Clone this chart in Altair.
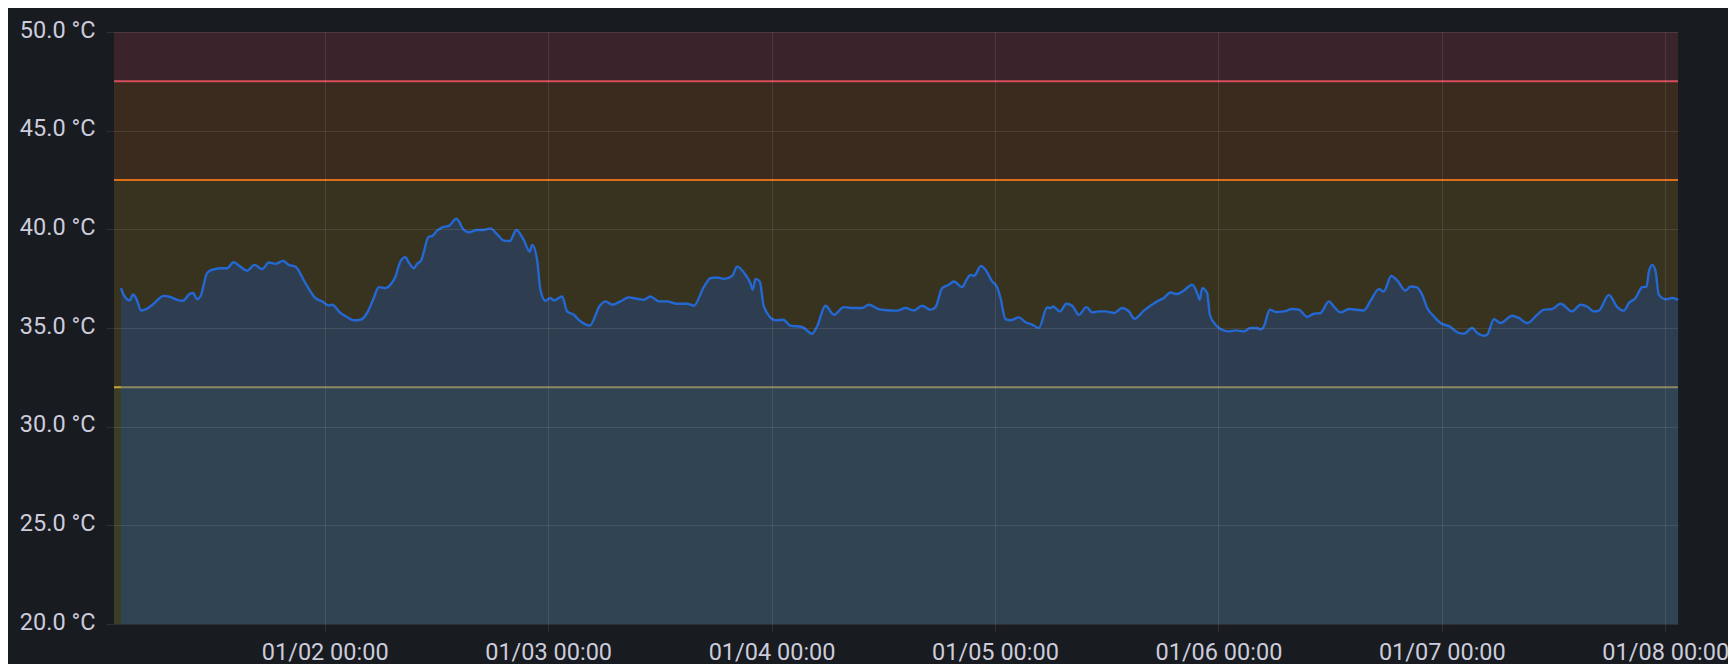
import altair as alt
import pandas as pd

# ---- data (hours after 01/01 00:00, temperature in °C) ----
hours = [
    2.12, 2.41, 3.06, 3.41, 3.77, 4.27, 4.92, 5.63, 6.71, 7.42, 8.14, 8.78, 9.50, 9.86,
    10.29, 10.65, 11.36, 11.90, 12.80, 13.51, 14.23, 14.94, 15.66, 16.45, 17.27, 17.99,
    18.70, 19.53, 20.14, 20.85, 21.93, 23.00, 23.72, 24.43, 24.79, 25.69, 26.40, 27.12,
    27.84, 28.55, 29.27, 29.81, 30.52, 31.06, 31.60, 32.13, 32.67, 33.03, 33.57, 33.92,
    34.35, 35.18, 35.54, 36.07, 36.61, 37.33, 38.15, 38.94, 39.47, 40.37, 41.08, 41.80,
    42.52, 43.23, 43.88, 44.59, 45.38, 46.03, 46.28, 46.82, 47.17, 47.71,
    48.25, 48.61, 49.50, 50.04, 50.75, 51.47, 52.47, 53.55, 54.16, 54.87, 55.77, 56.66,
    57.56, 58.27, 58.99, 59.88, 60.78, 61.85, 62.93, 63.65, 64.72, 65.44, 66.15, 66.87,
    67.76, 68.30, 69.20, 69.73, 69.98, 70.27, 70.74, 71.17, 72.42, 73.24, 74.03, 75.28,
    76.36, 76.89, 77.79, 78.69, 79.76, 80.83, 81.73, 82.45, 83.52, 84.77, 85.49, 86.38,
    87.28, 88.17, 89.07, 89.61, 90.32, 91.04, 91.58, 92.47, 92.94, 93.37, 93.73, 94.51,
    94.98, 95.70, 96.23, 96.59, 97.13, 97.66, 98.56, 99.28, 99.99, 100.71, 101.60,
    101.96, 102.25, 102.96, 103.68, 104.29, 105.01, 105.83, 106.44, 107.15, 107.87,
    108.76, 109.66, 110.38, 110.99, 111.99, 112.70, 113.42, 114.14, 114.85, 115.57,
    116.29, 117.18, 117.72, 118.00, 118.26, 118.79, 119.08, 119.69, 120.22, 121.12,
    121.84, 122.73, 123.45, 124.16, 124.52, 124.88, 125.52, 126.13, 127.03, 127.92,
    128.64, 129.54, 130.25, 130.97, 131.86, 132.40, 133.12, 134.01, 135.62, 136.34,
    137.23, 137.77, 138.56, 139.20, 140.10, 140.64, 141.28, 141.89, 142.43, 143.14,
    143.86, 144.93, 145.65, 146.37, 147.26, 147.80, 148.51, 148.87, 149.59, 150.30,
    151.56, 152.27, 153.17, 154.24, 154.96, 155.85, 156.75, 158.00, 158.90, 159.61,
    160.33, 160.87, 161.94, 162.84, 163.55, 164.09, 164.81, 165.52, 165.99, 166.24,
    166.60, 166.96, 167.31, 168.03, 168.75, 169.39,
]
temps = [
    37.02, 36.68, 36.40, 36.70, 36.48, 35.89, 35.98, 36.23, 36.63, 36.57, 36.43, 36.38, 36.73, 36.77,
    36.46, 36.60, 37.78, 37.95, 38.03, 38.03, 38.33, 38.11, 37.90, 38.20, 37.98, 38.32,
    38.25, 38.40, 38.20, 38.11, 37.27, 36.52, 36.35, 36.14, 36.18, 35.76, 35.56, 35.39,
    35.42, 35.76, 36.52, 37.07, 37.02, 37.19, 37.61, 38.37, 38.59, 38.32, 38.03, 38.25,
    38.42, 39.63, 39.66, 39.93, 40.10, 40.17, 40.54, 39.97, 39.85, 39.97, 39.97, 40.05,
    39.75, 39.43, 39.41, 39.97, 39.46, 38.87, 39.21, 38.45, 36.94, 36.38,
    36.52, 36.40, 36.60, 35.84, 35.67, 35.34, 35.12, 36.13, 36.35, 36.18, 36.35, 36.55,
    36.48, 36.43, 36.60, 36.35, 36.35, 36.23, 36.23, 36.13, 37.07, 37.53, 37.56, 37.49,
    37.64, 38.11, 37.69, 37.27, 36.94, 37.49, 37.36, 36.09, 35.39, 35.42, 35.12, 35.05,
    34.71, 35.08, 36.13, 35.67, 36.06, 36.01, 36.01, 36.18, 35.96, 35.89, 35.88, 36.01,
    35.89, 36.13, 35.93, 36.06, 37.02, 37.19, 37.36, 37.07, 37.44, 37.69, 37.64, 38.15,
    37.95, 37.36, 37.07, 36.52, 35.45, 35.39, 35.54, 35.29, 35.17, 35.00, 36.04,
    36.01, 36.09, 35.84, 36.23, 36.13, 35.67, 36.06, 35.79, 35.84, 35.84,
    35.76, 36.01, 35.84, 35.47, 35.88, 36.13, 36.35, 36.52, 36.80, 36.72,
    36.90, 37.19, 36.77, 36.43, 37.02, 36.77, 35.67, 35.17, 34.95, 34.83,
    34.88, 34.83, 35.00, 35.00, 34.92, 35.08, 35.93, 35.81, 35.84, 35.96,
    35.93, 35.56, 35.72, 35.76, 36.35, 36.09, 35.79, 35.96, 35.89, 36.38,
    36.97, 36.85, 37.64, 37.41, 36.90, 37.10, 37.07, 36.68, 36.01, 35.59,
    35.25, 35.05, 34.78, 34.71, 35.00, 34.75, 34.61, 34.66, 35.45, 35.25,
    35.62, 35.51, 35.25, 35.67, 35.93, 35.96, 36.23, 35.84, 36.18, 36.09,
    35.84, 35.88, 36.68, 36.06, 35.88, 36.26, 36.52, 37.07, 37.10, 37.86,
    38.20, 37.86, 36.68, 36.46, 36.52, 36.43,
]

# thresholds and bands
band_lower = [20, 32, 42.5, 47.5]
band_upper = [32, 42.5, 47.5, 50]
band_colors = ["#3c3d25", "#38331f", "#3b2a1e", "#3b232c"]
threshold_values = [32, 42.5, 47.5]
threshold_colors = ["#c8a73a", "#e06f1c", "#d64f5b"]

y_ticks = [20, 25, 30, 35, 40, 45, 50]
x_tick_days = [2, 3, 4, 5, 6, 7, 8]
window_start = (1, 1, 22)   # day, hour, minute
window_end = (8, 1, 22)

W, H = 1564, 592
BG = "#181b1f"
TXT = "#ccccdc"

df = pd.DataFrame({
    "time": pd.Timestamp("2024-01-01 00:00") + pd.to_timedelta(hours, unit="h"),
    "temp": temps,
})
bands = pd.DataFrame({"lo": band_lower, "hi": band_upper, "c": band_colors})
rules = pd.DataFrame({"v": threshold_values, "c": threshold_colors})

x_scale = alt.Scale(
    domain=[
        alt.DateTime(year=2024, month=1, date=window_start[0], hours=window_start[1], minutes=window_start[2]),
        alt.DateTime(year=2024, month=1, date=window_end[0], hours=window_end[1], minutes=window_end[2]),
    ],
    nice=False,
)
y_scale = alt.Scale(domain=[20, 50], nice=False, zero=False)

x_axis = alt.Axis(
    values=[alt.DateTime(year=2024, month=1, date=d) for d in x_tick_days],
    format="%m/%d %H:%M", title=None, domain=False, zindex=1,
    grid=True, gridColor=TXT, gridOpacity=0.12,
    ticks=True, tickColor=TXT, tickOpacity=0.12, tickSize=8,
    labelFont="Roboto", labelFontSize=23.5, labelColor=TXT, labelPadding=8,
    labelFlush=False, labelOverlap=False,
)
y_axis = alt.Axis(
    values=y_ticks, labelExpr="format(datum.value, '.1f') + ' °C'", title=None,
    domain=False, zindex=1, grid=True, gridColor=TXT, gridOpacity=0.12,
    ticks=True, tickColor=TXT, tickOpacity=0.12, tickSize=8,
    labelFont="Roboto", labelFontSize=23.5, labelColor=TXT, labelPadding=11,
    labelOffset=-2,
)

band_layer = alt.Chart(bands).mark_rect().encode(
    x=alt.value(0), x2=alt.value(W),
    y=alt.Y("lo:Q", scale=y_scale, axis=y_axis),
    y2="hi:Q",
    color=alt.Color("c:N", scale=None),
)
rule_layer = alt.Chart(rules).mark_rule(strokeWidth=2).encode(
    y=alt.Y("v:Q", scale=y_scale, axis=y_axis),
    color=alt.Color("c:N", scale=None),
)
area_layer = alt.Chart(df).mark_area(color="#1e52ab", opacity=0.35, interpolate="monotone").encode(
    x=alt.X("time:T", scale=x_scale, axis=x_axis),
    y=alt.Y("temp:Q", scale=y_scale, axis=y_axis),
    y2=alt.datum(20),
)
line_layer = alt.Chart(df).mark_line(color="#2468d4", strokeWidth=2.4, interpolate="monotone").encode(
    x=alt.X("time:T", scale=x_scale, axis=x_axis),
    y=alt.Y("temp:Q", scale=y_scale, axis=y_axis),
)

chart = alt.layer(band_layer, rule_layer, area_layer, line_layer).properties(
    width=W, height=H,
    autosize=alt.AutoSizeParams(type="none"),
    padding={"left": 106, "top": 24, "right": 50, "bottom": 40},
    background=BG,
).configure_view(stroke=None)

chart.save("out.html", embed_options={"renderer": "svg", "actions": False})
